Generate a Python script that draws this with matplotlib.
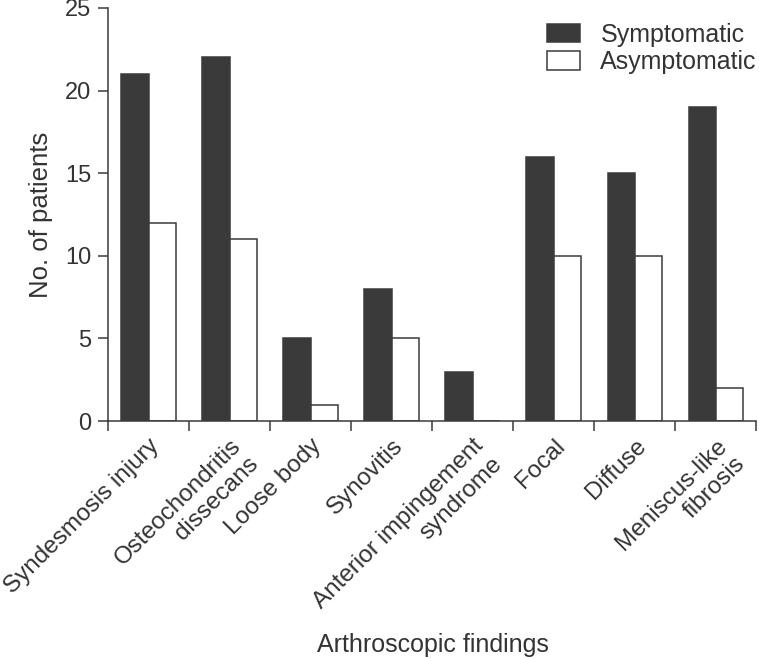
import numpy as np
import matplotlib.pyplot as plt

plt.rcParams['font.family'] = ['Liberation Sans', 'DejaVu Sans']

categories = ["Syndesmosis injury", "Osteochondritis\ndissecans", "Loose body",
              "Synovitis", "Anterior impingement\nsyndrome", "Focal", "Diffuse",
              "Meniscus-like\nfibrosis"]
symptomatic = [21, 22, 5, 8, 3, 16, 15, 19]
asymptomatic = [12, 11, 1, 5, 0, 10, 10, 2]

dark = "#3a3a3a"
txt = "#333333"

fig = plt.figure(figsize=(7.59, 6.59), dpi=100)
ax = fig.add_axes([0.1423, 0.361, 0.854, 0.627])

x = np.arange(len(categories)) + 0.5
w = 0.335
ax.bar(x - w / 2, symptomatic, w, color=dark, edgecolor=dark, linewidth=1.1, label="Symptomatic")
ax.bar(x + w / 2, asymptomatic, w, color="white", edgecolor=dark, linewidth=1.1, label="Asymptomatic")

ax.set_xlim(0, len(categories))
ax.set_ylim(0, 25)
ax.set_yticks([0, 5, 10, 15, 20, 25])
ax.set_xticks(np.arange(len(categories) + 1))
ax.set_xticklabels([])
ax.set_xticks(x, minor=True)
ax.set_xticklabels(categories, minor=True, rotation=45, ha="right", va="top",
                   rotation_mode="anchor", multialignment="right")
ax.tick_params(axis="x", which="minor", length=0, pad=10, labelsize=17.5, labelcolor=txt)
ax.tick_params(axis="x", which="major", length=7, width=1.1, color=dark)
ax.tick_params(axis="y", length=7, width=1.1, color=dark, pad=5, labelsize=17, labelcolor=txt)

for s in ["top", "right"]:
    ax.spines[s].set_visible(False)
for s in ["left", "bottom"]:
    ax.spines[s].set_color(dark)
    ax.spines[s].set_linewidth(1.1)

ax.set_ylabel("No. of patients", fontsize=18.5, color=txt, labelpad=9)
fig.text(0.57, 0.0106, "Arthroscopic findings", fontsize=18, color=txt, ha="center", va="baseline")

ax.legend(loc="upper right", bbox_to_anchor=(1.028, 1.007), frameon=False, fontsize=18,
          handlelength=1.32, handleheight=0.76, handletextpad=0.8, labelspacing=0.15,
          borderaxespad=0.3, labelcolor=txt)

fig.savefig("out.png", dpi=100)
